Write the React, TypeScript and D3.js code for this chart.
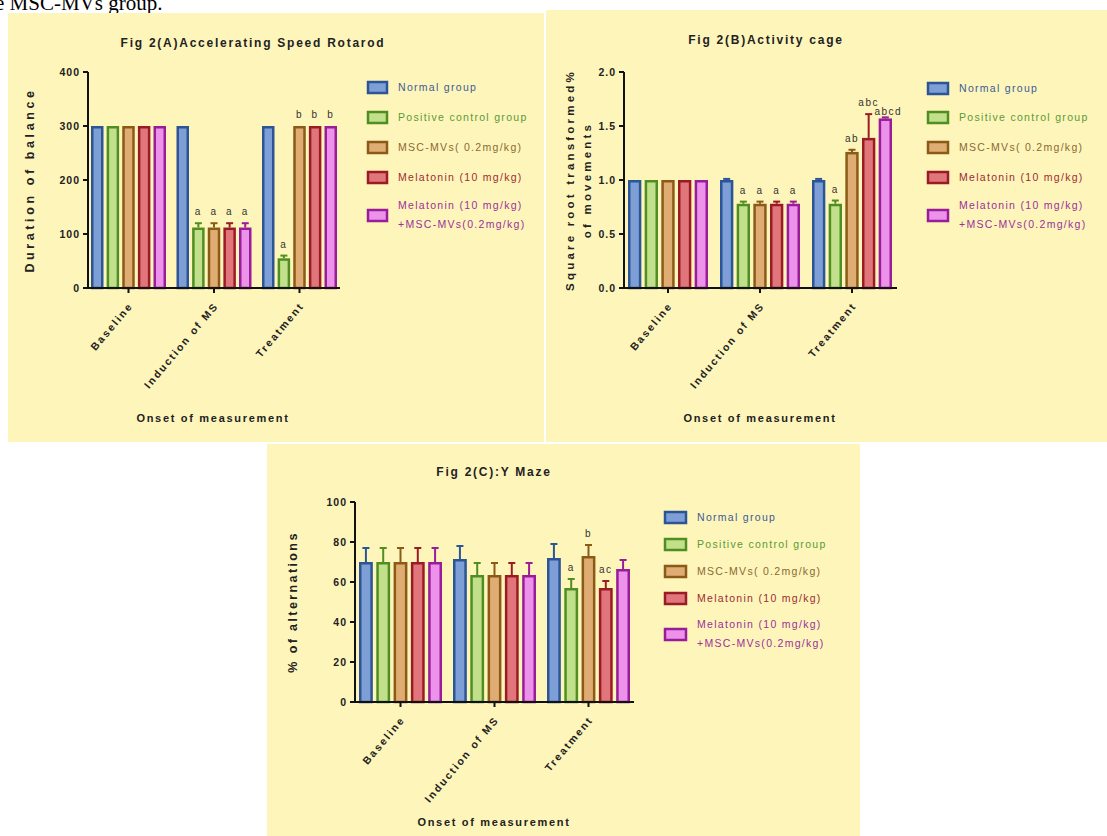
import React from 'react';
import * as d3 from 'd3';

// groups and phases shared by all three panels
const groups = [
  'Normal group',
  'Positive control group',
  'MSC-MVs(  0.2mg/kg)',
  'Melatonin (10 mg/kg)',
  'Melatonin (10 mg/kg)\n+MSC-MVs(0.2mg/kg)',
];
const phases = ['Baseline', 'Induction of MS', 'Treatment'];

const fills = ['#7d9fd6', '#c2df8c', '#dfad73', '#e0767b', '#ec92ea'];
const strokes = ['#2b5597', '#4f8f22', '#8b5a17', '#9b1b24', '#991c99'];
const textColors = ['#3d5c95', '#5b9a36', '#8a6a32', '#9c2b31', '#9a309a'];

// Fig 2(A) rotarod: one row per phase, one value per group
const rotarodMean = [
  [300, 300, 300, 300, 300],
  [300, 112, 112, 112, 112],
  [300, 55, 300, 300, 300],
];
const rotarodErr = [
  [0, 0, 0, 0, 0],
  [0, 8, 8, 8, 8],
  [0, 5, 0, 0, 0],
];
const rotarodLetters = [
  ['', '', '', '', ''],
  ['', 'a', 'a', 'a', 'a'],
  ['', 'a', 'b', 'b', 'b'],
];
const rotarodTicks = [0, 100, 200, 300, 400];

// Fig 2(B) activity cage
const cageMean = [
  [1.0, 1.0, 1.0, 1.0, 1.0],
  [1.0, 0.78, 0.78, 0.78, 0.78],
  [1.0, 0.78, 1.26, 1.39, 1.57],
];
const cageErr = [
  [0, 0, 0, 0, 0],
  [0.01, 0.02, 0.02, 0.02, 0.02],
  [0.01, 0.03, 0.02, 0.22, 0.01],
];
const cageLetters = [
  ['', '', '', '', ''],
  ['', 'a', 'a', 'a', 'a'],
  ['', 'a', 'ab', 'abc', 'abcd'],
];
const cageTicks = [0, 0.5, 1.0, 1.5, 2.0];

// Fig 2(C) Y maze
const mazeMean = [
  [70, 70, 70, 70, 70],
  [71.5, 63.5, 63.5, 63.5, 63.5],
  [72, 57, 73, 57, 66.5],
];
const mazeErr = [
  [7, 7, 7, 7, 7],
  [6.5, 6, 6, 6, 6],
  [7, 4.5, 5.5, 3.5, 4.5],
];
const mazeLetters = [
  ['', '', '', '', ''],
  ['', '', '', '', ''],
  ['', 'a', 'b', 'ac', ''],
];
const mazeTicks = [0, 20, 40, 60, 80, 100];

const FONT = '"Liberation Sans", Arial, sans-serif';
const BG = '#fef5bb';

function Panel(p) {
  const y = d3.scaleLinear().domain(p.domain).range([p.yBottom, p.yTop]);
  const x = d3.scaleBand().domain(phases).range([p.tick0 - p.step / 2, p.tick0 + p.step * 2.5]).padding(0);
  const inner = d3.scaleBand().domain(d3.range(groups.length)).range([-p.span / 2, p.span / 2]).paddingInner(0.2);
  const bw = inner.bandwidth();
  const fmt = p.fmt || ((v) => String(v));
  return (
    <g fontFamily={FONT}>
      <rect x={p.bg[0]} y={p.bg[1]} width={p.bg[2]} height={p.bg[3]} fill={BG} />
      <text x={p.titleX} y={p.titleY} textAnchor="middle" fontWeight="bold" fontSize={12} letterSpacing={1.75} fill="#222">
        {p.title}
      </text>
      {/* y axis title */}
      {p.yLabel.map((t, i) => (
        <text key={i} transform={`translate(${p.yLabelX + i * 17},${(p.yTop + p.yBottom) / 2}) rotate(-90)`}
          textAnchor="middle" fontWeight="bold" fontSize={p.yLabelSize} letterSpacing={p.yLabelSpacing} fill="#222">
          {t}
        </text>
      ))}
      {/* bars */}
      {phases.map((ph, pi) => (
        <g key={ph} transform={`translate(${x(ph) + x.bandwidth() / 2},0)`}>
          {p.mean[pi].map((v, gi) => {
            const bx = inner(gi);
            const cx = bx + bw / 2;
            const top = y(v);
            const errTop = y(v + p.err[pi][gi]);
            const lab = p.letters[pi][gi];
            // long labels sit tight on the bar, as in the original
            const gap = lab.length > 3 ? 2 : 8;
            return (
              <g key={gi}>
                {p.err[pi][gi] > 0 && (
                  <g stroke={strokes[gi]} strokeWidth={2}>
                    <line x1={cx} x2={cx} y1={top} y2={errTop} />
                    <line x1={cx - 3.5} x2={cx + 3.5} y1={errTop} y2={errTop} />
                  </g>
                )}
                <rect x={bx + 1.25} y={top + 1.25} width={bw - 2.5} height={y(0) - top - 1.25}
                  fill={fills[gi]} stroke={strokes[gi]} strokeWidth={2.5} />
                {lab && (
                  <text x={cx + (lab.length > 3 ? 3 : 0)} y={errTop - gap} textAnchor="middle" fontSize={10} letterSpacing={1.5} fill="#333">
                    {lab}
                  </text>
                )}
              </g>
            );
          })}
        </g>
      ))}
      {/* y axis */}
      <line x1={p.axisX} x2={p.axisX} y1={p.yTop} y2={y(0) + 1} stroke="#111" strokeWidth={2} />
      {p.ticks.map((t) => (
        <g key={t}>
          <line x1={p.axisX - 5} x2={p.axisX} y1={y(t)} y2={y(t)} stroke="#111" strokeWidth={2} />
          <text x={p.axisX - 8} y={y(t)} dy="0.35em" textAnchor="end" fontWeight="bold" fontSize={10.5} letterSpacing={1} fill="#222">
            {fmt(t)}
          </text>
        </g>
      ))}
      {/* x axis */}
      <line x1={p.axisX - 5} x2={p.axisEnd} y1={y(0)} y2={y(0)} stroke="#111" strokeWidth={2} />
      {phases.map((ph) => {
        const cx = x(ph) + x.bandwidth() / 2;
        return (
          <g key={ph}>
            <line x1={cx} x2={cx} y1={y(0)} y2={y(0) + 5} stroke="#111" strokeWidth={2} />
            <text transform={`translate(${cx + 5},${y(0) + 18}) rotate(-50)`} textAnchor="end"
              fontWeight="bold" fontSize={10.5} letterSpacing={2} fill="#222">
              {ph}
            </text>
          </g>
        );
      })}
      <text x={p.xTitleX} y={p.xTitleY} textAnchor="middle" fontWeight="bold" fontSize={11} letterSpacing={1.7} fill="#222">
        Onset of measurement
      </text>
      {/* legend */}
      {groups.map((g, gi) => {
        const ly = p.legendY[gi];
        const lines = g.split('\n');
        return (
          <g key={gi}>
            <rect x={p.legendX + 1} y={ly - 5} width={p.swatchW - 2} height={11} fill={fills[gi]} stroke={strokes[gi]} strokeWidth={2.5} />
            {lines.map((l, li) => (
              <text key={li} x={p.legendX + p.swatchW + 10} y={ly + (li - (lines.length - 1) / 2) * 19.5} dy="0.35em"
                fontSize={10.5} letterSpacing={1.3} fill={textColors[gi]}>
                {l}
              </text>
            ))}
          </g>
        );
      })}
    </g>
  );
}

export default function App() {
  return (
    <svg width={1107} height={836} style={{ position: 'absolute', left: 0, top: 0, background: '#fff' }}>
      <text x={-5} y={10} fontFamily='"Liberation Serif", "Times New Roman", serif' fontSize={21} fill="#000">
        e MSC-MVs group.
      </text>
      <Panel
        bg={[8, 13, 536, 429]}
        title="Fig 2(A)Accelerating Speed Rotarod" titleX={253} titleY={47}
        yLabel={['Duration of balance']} yLabelX={34} yLabelSize={12.5} yLabelSpacing={3.6}
        domain={[0, 400]} yTop={72} yBottom={288} ticks={rotarodTicks}
        axisX={88} axisEnd={340} tick0={128.5} step={85.5} span={75}
        mean={rotarodMean} err={rotarodErr} letters={rotarodLetters}
        xTitleX={213} xTitleY={422}
        legendX={367} swatchW={21} legendY={[87, 117, 147, 177, 215]}
      />
      <Panel
        bg={[546, 10, 561, 432]}
        title="Fig 2(B)Activity cage" titleX={766} titleY={44}
        yLabel={['Square root transformed%', 'of movements']} yLabelX={574} yLabelSize={11.5} yLabelSpacing={3.2}
        domain={[0, 2]} yTop={72} yBottom={288} ticks={cageTicks} fmt={(v) => v.toFixed(1)}
        axisX={624} axisEnd={897} tick0={668} step={92} span={80}
        mean={cageMean} err={cageErr} letters={cageLetters}
        xTitleX={760} xTitleY={422}
        legendX={927} swatchW={22} legendY={[88, 117, 147, 177, 215]}
      />
      <Panel
        bg={[267, 444, 593, 392]}
        title="Fig 2(C):Y Maze" titleX={494} titleY={476}
        yLabel={['% of alternations']} yLabelX={297} yLabelSize={12.5} yLabelSpacing={2.4}
        domain={[0, 100]} yTop={502} yBottom={702} ticks={mazeTicks}
        axisX={355} axisEnd={634} tick0={400.5} step={94} span={83}
        mean={mazeMean} err={mazeErr} letters={mazeLetters}
        xTitleX={494} xTitleY={826}
        legendX={664} swatchW={23} legendY={[517, 544, 571, 598, 634]}
      />
    </svg>
  );
}
